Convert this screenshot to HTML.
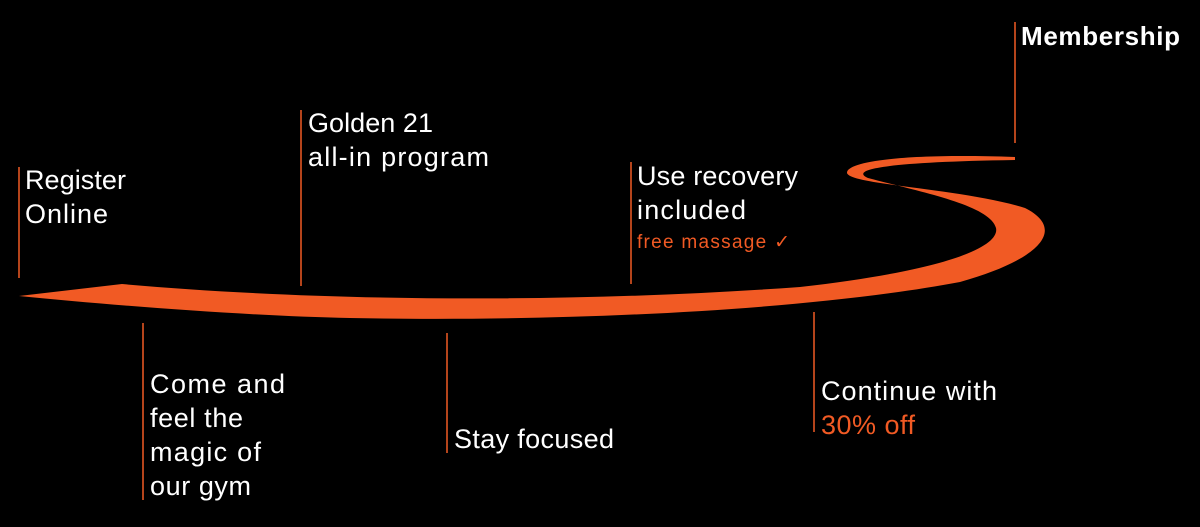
<!DOCTYPE html>
<html><head><style>
html,body{margin:0;padding:0;background:#000;}
svg{display:block}
text{font-family:"Liberation Sans",sans-serif;font-size:27px;fill:#fff;}
.o{fill:#f15a24}
</style></head><body>
<svg width="1200" height="527" viewBox="0 0 1200 527" xmlns="http://www.w3.org/2000/svg">
<rect width="1200" height="527" fill="#000"/>
<path class="o" d="M19,296 L122,284 C300,300 550,305 800,287 C950,270 1000,246 996,228 C990,205 920,192 868,178 C850,170 880,162 1015,160 L1015,157 C900,153 846,162 847,173 C850,185 960,188 1025,208 C1065,228 1045,258 960,282 C800,312 550,322 350,318 C250,316 120,306 19,296 Z"/>
<g stroke="#f15a24" stroke-width="1.5">
<line x1="19" y1="167" x2="19" y2="278"/>
<line x1="301" y1="110" x2="301" y2="286"/>
<line x1="631" y1="162" x2="631" y2="284"/>
<line x1="1015" y1="22" x2="1015" y2="143"/>
<line x1="143" y1="323" x2="143" y2="500"/>
<line x1="447" y1="333" x2="447" y2="453"/>
<line x1="814" y1="312" x2="814" y2="432"/>
</g>
<text x="25" y="189" textLength="101">Register</text>
<text x="25" y="223" textLength="83">Online</text>
<text x="308" y="132" textLength="125">Golden 21</text>
<text x="308" y="166" textLength="181">all-in program</text>
<text x="637" y="185" textLength="161">Use recovery</text>
<text x="637" y="219" textLength="109">included</text>
<text x="637" y="248" textLength="153" style="font-size:19px" class="o">free massage ✓</text>
<text x="150" y="393" textLength="135">Come and</text>
<text x="150" y="427" textLength="93">feel the</text>
<text x="150" y="461" textLength="111">magic of</text>
<text x="150" y="495" textLength="101">our gym</text>
<text x="454" y="448" textLength="160">Stay focused</text>
<text x="821" y="400" textLength="176">Continue with</text>
<text x="821" y="434" textLength="94" class="o">30% off</text>
<text x="1021" y="45" textLength="159" style="font-weight:bold;font-size:26px">Membership</text>
</svg>
</body></html>
